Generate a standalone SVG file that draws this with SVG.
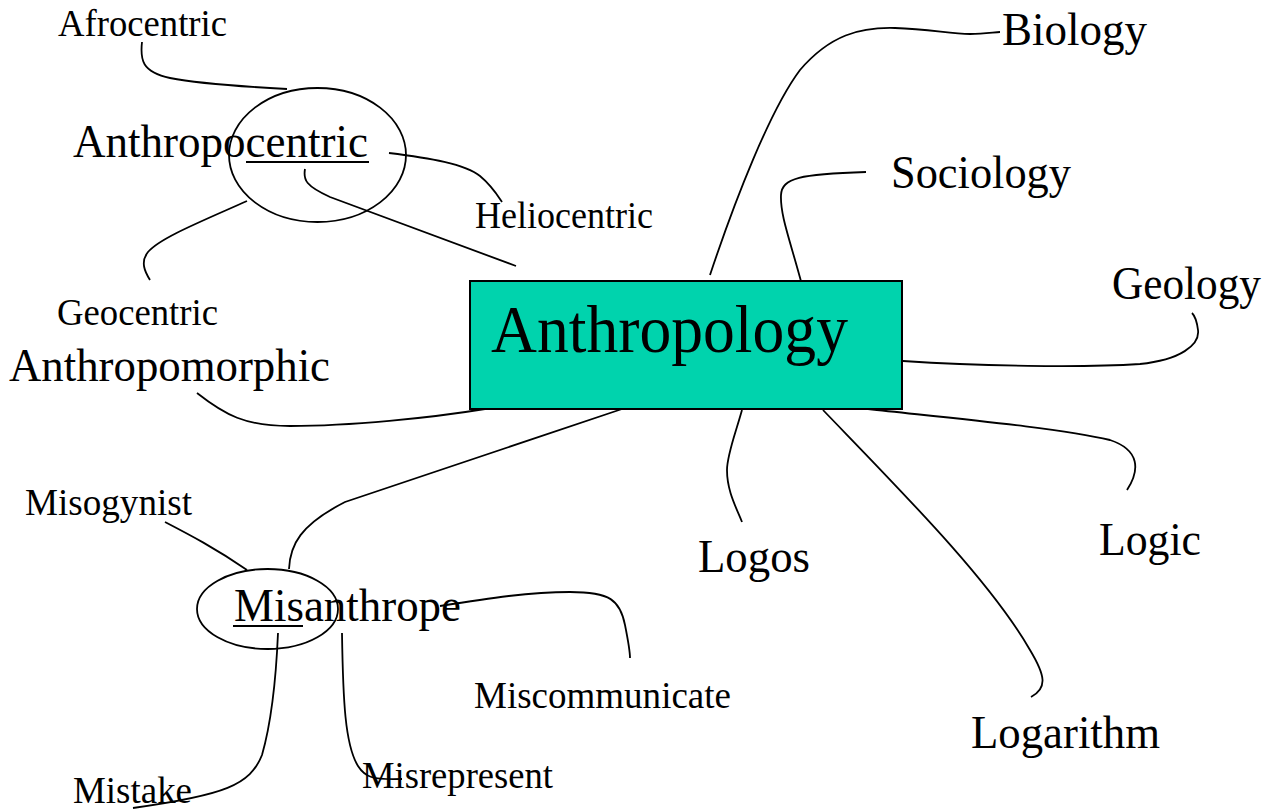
<svg xmlns="http://www.w3.org/2000/svg" width="1273" height="809" viewBox="0 0 1273 809">
<style>
text{font-family:"Liberation Serif","Times New Roman",serif;fill:#000}
.s{font-size:38px}
.m{font-size:47px}
.l{font-size:67px}
.c{fill:none;stroke:#000;stroke-width:1.8}
.u{stroke:#000;stroke-width:2}
</style>
<rect width="1273" height="809" fill="#fff"/>
<g id="connectors" class="c">
<path d="M142,42 C140,60 142,72 170,78 C200,84 250,87 287,89"/>
<path d="M389,153 C430,158 465,164 480,176 C492,186 498,196 502,202"/>
<path d="M305,169 C303,180 306,186 330,197 L516,266"/>
<path d="M247,201 C200,222 160,238 148,252 C140,262 145,272 150,280"/>
<path d="M197,393 C225,415 245,426 290,426 C350,426 430,418 485,409"/>
<path d="M622,409 L345,502 C300,525 290,545 289,569"/>
<path d="M165,522 C190,535 215,548 247,570"/>
<path d="M440,606 C490,598 530,592 570,592 C610,592 620,600 625,625 C628,640 630,650 630,658"/>
<path d="M278,633 C276,680 272,720 262,755 C250,785 225,795 133,808"/>
<path d="M342,633 C343,700 345,745 358,766 C365,777 372,780 402,779"/>
<path d="M710,275 C735,200 770,110 800,70 C830,35 860,27 895,28 C930,29 950,34 970,34 C985,34 995,32 1000,32"/>
<path d="M802,285 C790,240 780,215 781,195 C782,178 800,174 866,172"/>
<path d="M903,361 C980,366 1080,368 1140,364 C1180,360 1200,345 1198,330 C1197,322 1195,316 1192,313"/>
<path d="M742,410 C735,435 727,455 727,470 C727,490 735,505 742,522"/>
<path d="M823,410 C900,490 990,580 1030,650 C1045,675 1048,688 1031,697"/>
<path d="M868,409 C950,418 1060,428 1110,440 C1140,450 1140,470 1127,490"/>
</g>
<g id="anthropology">
<rect x="470" y="281" width="432" height="128" fill="#00D3AD" stroke="#000" stroke-width="2"/>
<text class="l" x="491" y="352" textLength="357" lengthAdjust="spacingAndGlyphs">Anthropology</text>
</g>
<g id="anthropocentric">
<ellipse cx="317.5" cy="155" rx="88.5" ry="67" class="c"/>
<text class="m" x="73" y="157" textLength="295" lengthAdjust="spacingAndGlyphs">Anthropocentric</text>
<line x1="246" y1="162" x2="369" y2="162" class="u"/>
</g>
<g id="afrocentric"><text class="s" x="58" y="36" textLength="169" lengthAdjust="spacingAndGlyphs">Afrocentric</text></g>
<g id="heliocentric"><text class="s" x="475" y="228" textLength="178" lengthAdjust="spacingAndGlyphs">Heliocentric</text></g>
<g id="geocentric"><text class="s" x="57" y="325" textLength="161" lengthAdjust="spacingAndGlyphs">Geocentric</text></g>
<g id="anthropomorphic"><text class="m" x="9" y="381" textLength="321" lengthAdjust="spacingAndGlyphs">Anthropomorphic</text></g>
<g id="misanthrope">
<ellipse cx="267.5" cy="609" rx="70.5" ry="40" class="c"/>
<text class="m" x="234" y="621" textLength="227" lengthAdjust="spacingAndGlyphs">Misanthrope</text>
<line x1="233" y1="626" x2="303" y2="626" class="u"/>
</g>
<g id="misogynist"><text class="s" x="25" y="515" textLength="167" lengthAdjust="spacingAndGlyphs">Misogynist</text></g>
<g id="miscommunicate"><text class="s" x="474" y="708" textLength="257" lengthAdjust="spacingAndGlyphs">Miscommunicate</text></g>
<g id="misrepresent"><text class="s" x="362" y="788" textLength="191" lengthAdjust="spacingAndGlyphs">Misrepresent</text></g>
<g id="mistake"><text class="s" x="73" y="803" textLength="119" lengthAdjust="spacingAndGlyphs">Mistake</text></g>
<g id="biology"><text class="m" x="1002" y="45" textLength="145" lengthAdjust="spacingAndGlyphs">Biology</text></g>
<g id="sociology"><text class="m" x="891" y="188" textLength="180" lengthAdjust="spacingAndGlyphs">Sociology</text></g>
<g id="geology"><text class="m" x="1112" y="299" textLength="149" lengthAdjust="spacingAndGlyphs">Geology</text></g>
<g id="logos"><text class="m" x="698" y="572" textLength="112" lengthAdjust="spacingAndGlyphs">Logos</text></g>
<g id="logic"><text class="m" x="1099" y="555" textLength="102" lengthAdjust="spacingAndGlyphs">Logic</text></g>
<g id="logarithm"><text class="m" x="971" y="748" textLength="189" lengthAdjust="spacingAndGlyphs">Logarithm</text></g>
</svg>
